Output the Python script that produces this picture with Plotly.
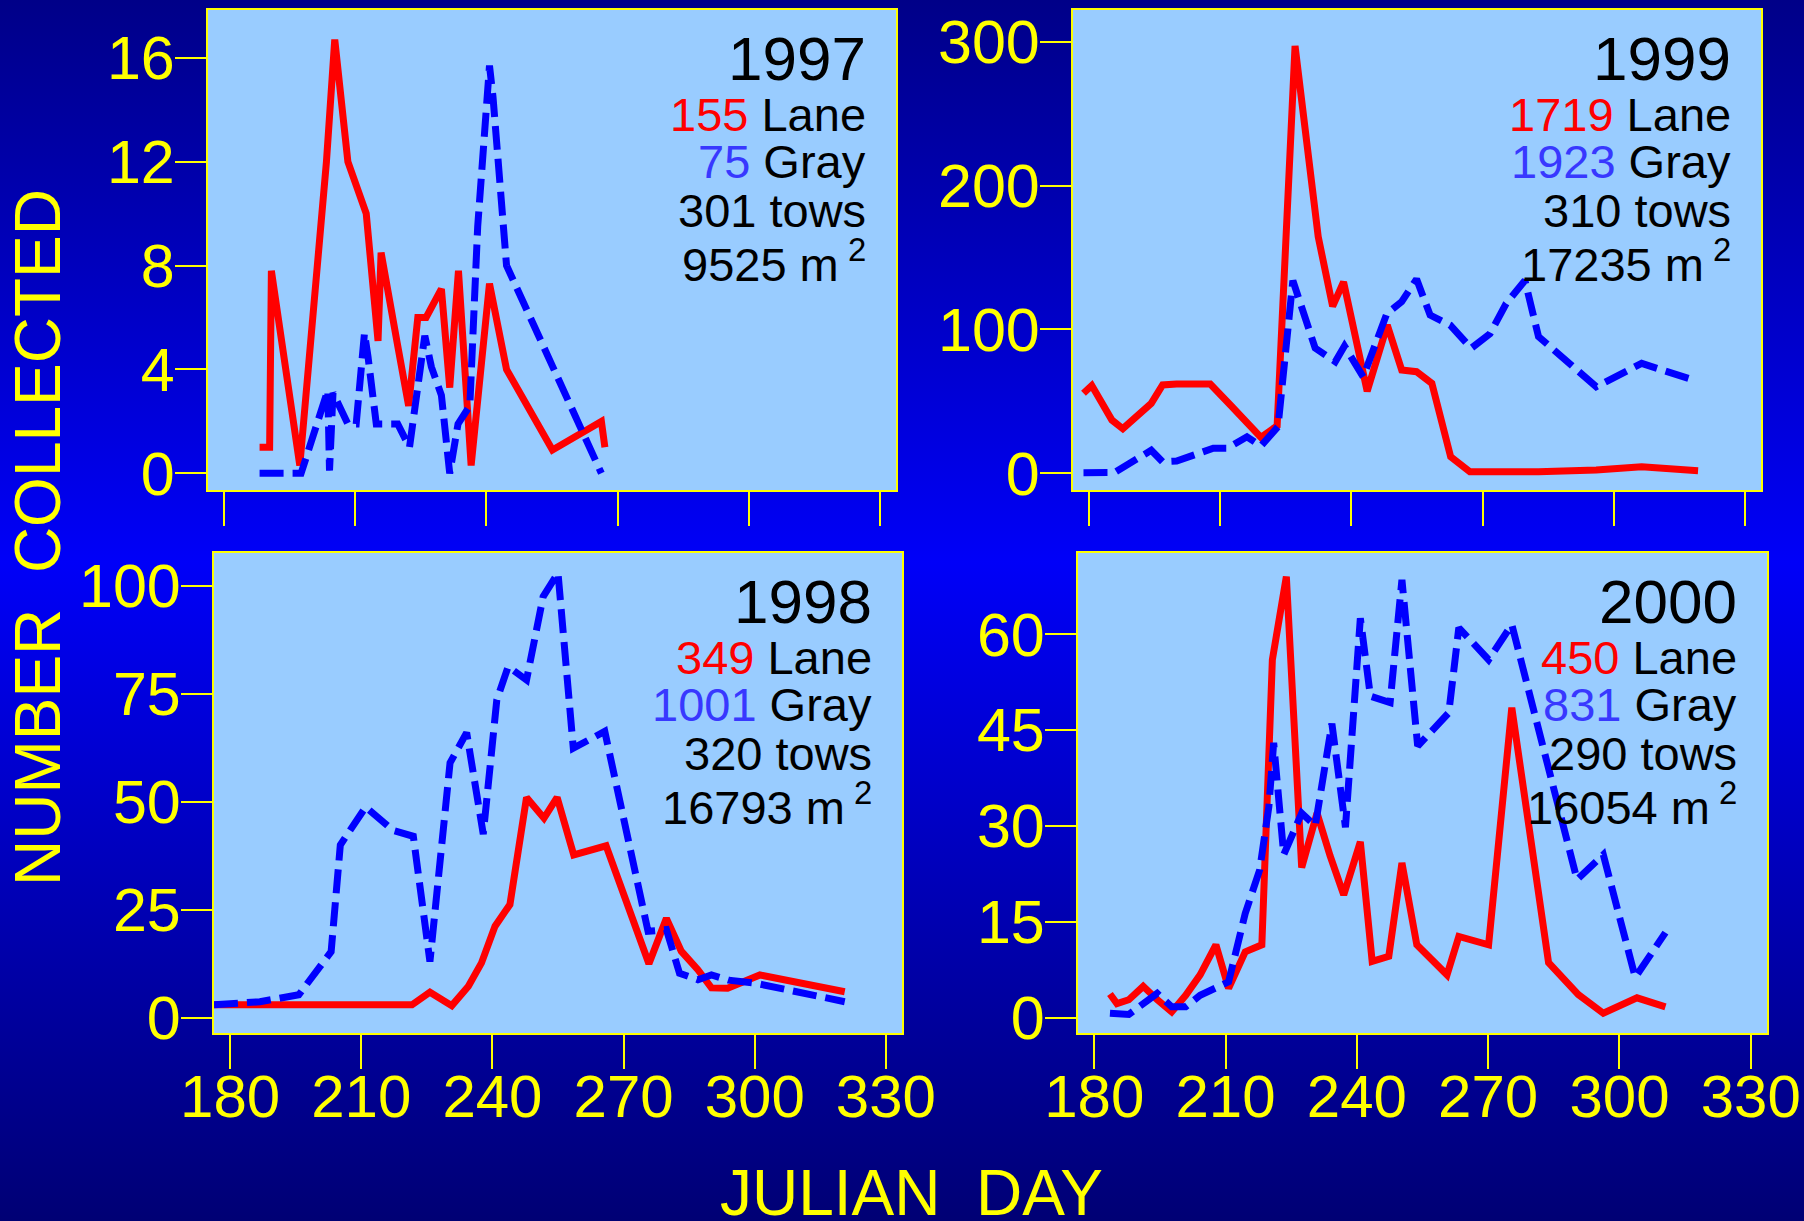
import base64
import plotly.graph_objects as go

# ---------------- data ----------------
DAY_1997_LANE = [188.1, 190.4, 190.8, 197.3, 203.4, 205.3, 208.3, 210.2, 212.5, 215.2, 215.9, 219.6,
                 222.2, 224.3, 226.2, 229.7, 231.6, 233.6, 236.5, 240.7, 244.6, 255.1, 266.3, 267.1]
N_1997_LANE = [1, 1, 7.8, 0.3, 12, 16.7, 12, 11, 10, 5.1, 8.5, 5, 2.6, 6, 6, 7.1, 3.3, 7.8, 0.3, 7.3,
               4, 0.9, 2, 1]
DAY_1997_GRAY = [188.1, 197.6, 203.7, 204.1, 204.9, 208.3, 210.2, 212.1, 212.9, 214.8, 219.7, 222.4,
                 225.9, 227.4, 229.7, 231.6, 233.5, 236.2, 238.0, 240.7, 241.5, 244.6, 266.3]
N_1997_GRAY = [0, 0, 3.2, 0.1, 3.1, 1.9, 1.9, 5.4, 4.5, 1.9, 1.9, 1.0, 5.3, 4.1, 3.0, 0.0, 1.9, 2.6,
               9.5, 15.7, 14.5, 8, 0]

DAY_1999_LANE = [178.7, 180.6, 185.2, 187.7, 194.2, 196.8, 200.0, 207.7, 212.3, 216.8, 219.3, 223.0,
                 227.1, 232.4, 235.7, 238.2, 243.6, 248.2, 251.5, 254.9, 258.4, 262.7, 267.1, 282.8,
                 296.0, 306.4, 319.3]
N_1999_LANE = [55.6, 61, 37, 31, 48.6, 61.4, 62, 62, 47.5, 33.6, 25, 33, 297, 164.4, 116, 133, 57,
               103, 71.8, 70.6, 62.5, 11.5, 1.1, 1, 2.3, 4.6, 1.8]
DAY_1999_GRAY = [178.7, 185.8, 194.2, 196.8, 200.0, 208.4, 211.6, 216.1, 219.3, 223.2, 226.6, 231.7,
                 236.3, 238.4, 242.7, 248.1, 251.5, 254.9, 258.0, 262.6, 267.4, 271.7, 275.4, 279.7,
                 282.8, 296.0, 306.4, 318.3]
N_1999_GRAY = [0.4, 0.5, 16, 8, 8.5, 17.4, 17.4, 25.4, 19, 32.4, 134, 87, 77.6, 88.5, 67, 111, 119.3,
               135, 110, 103, 86.9, 97, 118, 134, 95, 60.2, 76.4, 64.8]

DAY_1998_LANE = [176.3, 221.6, 225.7, 230.7, 234.5, 237.5, 240.6, 244.0, 247.8, 251.8, 254.8, 258.6,
                 266.0, 275.8, 279.8, 283.2, 287.0, 290.1, 293.8, 301.2, 320.6]
N_1998_LANE = [3, 3, 5.9, 2.8, 7.3, 12.7, 21.2, 26.2, 51, 46.2, 51, 37.7, 39.8, 12.5, 23, 15.4, 11.1,
               6.9, 6.8, 9.9, 6]
DAY_1998_GRAY = [176.3, 186.8, 195.7, 203.1, 205.2, 211.0, 217.2, 221.9, 225.7, 230.3, 234.1, 237.9,
                 241.0, 243.6, 247.8, 251.6, 255.0, 258.5, 265.7, 275.6, 279.8, 282.8, 287.0, 290.1,
                 294.0, 300.1, 320.6]
N_1998_GRAY = [3, 3.7, 5.3, 15.3, 40, 48.8, 43.4, 42, 13, 59, 66, 42.5, 73.6, 81.3, 78.2, 97.5, 103,
               62.4, 66.3, 20, 20.4, 10.3, 8.8, 9.9, 8.7, 8, 3.7]

DAY_2000_LANE = [183.6, 185.2, 187.9, 191.2, 194.4, 197.7, 200.9, 204.2, 207.8, 210.7, 214.5, 218.3,
                 220.7, 223.9, 227.4, 230.9, 233.9, 237.0, 240.8, 243.5, 247.3, 250.3, 253.7, 260.6,
                 263.3, 270.1, 275.4, 283.8, 290.6, 296.3, 304.0, 310.5]
N_2000_LANE = [3.7, 2.2, 2.8, 4.9, 2.8, 0.9, 3.5, 6.7, 11.4, 4.6, 10.3, 11.4, 56, 69, 23.5, 32, 25.3,
               19.2, 27.5, 8.8, 9.6, 24.2, 11.4, 6.7, 12.7, 11.4, 48.5, 8.6, 3.6, 0.7, 3.1, 1.7]
DAY_2000_GRAY = [183.6, 187.9, 194.4, 197.7, 200.9, 204.2, 210.7, 214.5, 217.8, 219.9, 221.0, 223.3,
                 227.4, 230.5, 234.3, 235.5, 237.4, 240.8, 243.1, 247.6, 250.3, 253.9, 261.0, 263.3,
                 270.1, 275.4, 290.3, 296.3, 303.6, 310.5]
N_2000_GRAY = [0.7, 0.5, 3.8, 1.7, 1.7, 3.5, 5.6, 16.3, 23.1, 33, 43, 25.5, 32, 30, 46, 38.8, 29.8,
               62.5, 50.3, 49.3, 68.5, 42.5, 47.7, 61, 56, 61.5, 21.6, 25.5, 6.3, 13.3]

YEARS = ["1997", "1999", "1998", "2000"]
LANE_TOTAL = ["155", "1719", "349", "450"]
GRAY_TOTAL = ["75", "1923", "1001", "831"]
TOWS = ["301", "310", "320", "290"]
AREA = ["9525", "17235", "16793", "16054"]

X_TICKS = [180, 210, 240, 270, 300, 330]
Y_TICKS_1997 = [0, 4, 8, 12, 16]
Y_TICKS_1999 = [0, 100, 200, 300]
Y_TICKS_1998 = [0, 25, 50, 75, 100]
Y_TICKS_2000 = [0, 15, 30, 45, 60]

# ---------------- styling ----------------
W, H = 1804, 1221
FONT = "Liberation Sans, Arial, Helvetica, sans-serif"
YELLOW = "#FFFF00"
RED = "#FF0000"
BLUE = "#0000FF"
NUMBLUE = "#3838FF"
BOXBG = "#99CCFF"

panels = [
    dict(lane=(DAY_1997_LANE, N_1997_LANE), gray=(DAY_1997_GRAY, N_1997_GRAY), yt=Y_TICKS_1997,
         yr=[-0.643, 17.84], xd=[208 / W, 896 / W], yd=[1 - 490 / H, 1 - 10 / H], labels=False),
    dict(lane=(DAY_1999_LANE, N_1999_LANE), gray=(DAY_1999_GRAY, N_1999_GRAY), yt=Y_TICKS_1999,
         yr=[-11.6, 322], xd=[1073 / W, 1761 / W], yd=[1 - 490 / H, 1 - 10 / H], labels=False),
    dict(lane=(DAY_1998_LANE, N_1998_LANE), gray=(DAY_1998_GRAY, N_1998_GRAY), yt=Y_TICKS_1998,
         yr=[-3.54, 107.6], xd=[214 / W, 902 / W], yd=[1 - 1033 / H, 1 - 553 / H], labels=True),
    dict(lane=(DAY_2000_LANE, N_2000_LANE), gray=(DAY_2000_GRAY, N_2000_GRAY), yt=Y_TICKS_2000,
         yr=[-2.4, 72.7], xd=[1078 / W, 1767 / W], yd=[1 - 1033 / H, 1 - 553 / H], labels=True),
]

fig = go.Figure()
layout = {}
annotations = []
shapes = []

for i, p in enumerate(panels):
    s = "" if i == 0 else str(i + 1)
    fig.add_trace(go.Scatter(x=p["lane"][0], y=p["lane"][1], mode="lines",
                             line=dict(color=RED, width=7), xaxis="x" + s, yaxis="y" + s,
                             showlegend=False, hoverinfo="skip"))
    fig.add_trace(go.Scatter(x=p["gray"][0], y=p["gray"][1], mode="lines",
                             line=dict(color=BLUE, width=7, dash="24px,9px"), xaxis="x" + s,
                             yaxis="y" + s, showlegend=False, hoverinfo="skip"))
    common = dict(showgrid=False, zeroline=False, showline=True, mirror=True, linecolor=YELLOW,
                  linewidth=2, ticks="outside", tickwidth=2, tickcolor=YELLOW, fixedrange=True,
                  automargin=False)
    layout["xaxis" + s] = dict(domain=p["xd"], range=[176.3, 333.7], tickvals=X_TICKS,
                               ticktext=[str(v) for v in X_TICKS], ticklen=34,
                               showticklabels=p["labels"], anchor="y" + s,
                               tickfont=dict(family=FONT, size=60, color=YELLOW),
                               ticklabelstandoff=-24, **common)
    layout["yaxis" + s] = dict(domain=p["yd"], range=p["yr"], tickvals=p["yt"],
                               ticktext=[str(v) for v in p["yt"]], ticklen=31, anchor="x" + s,
                               tickfont=dict(family=FONT, size=61, color=YELLOW),
                               ticklabelstandoff=-12, **common)
    xr, yr = "x" + s + " domain", "y" + s + " domain"
    # light-blue plotting box (drawn above the page gradient, below the traces)
    shapes.append(dict(type="rect", xref=xr, yref=yr, x0=0, x1=1, y0=0, y1=1,
                       fillcolor=BOXBG, line=dict(width=0), layer="below"))
    lines = [
        (YEARS[i], 62, 0.899),
        (f"<span style='color:{RED}'>{LANE_TOTAL[i]}</span> Lane", 47, 0.782),
        (f"<span style='color:{NUMBLUE}'>{GRAY_TOTAL[i]}</span> Gray", 47, 0.684),
        (f"{TOWS[i]} tows", 47, 0.583),
        (f"{AREA[i]} m<sup> 2</sup>", 47, 0.477),
    ]
    for txt, fs, yy in lines:
        annotations.append(dict(text=txt, xref=xr, yref=yr, x=0.959, y=yy, xanchor="right",
                                yanchor="middle", showarrow=False,
                                font=dict(family=FONT, size=fs, color="#000000")))

annotations.append(dict(text="NUMBER\u00a0 COLLECTED", xref="paper", yref="paper", x=38 / W,
                        y=1 - 538 / H, xanchor="center", yanchor="middle", textangle=-90,
                        showarrow=False, font=dict(family=FONT, size=64, color=YELLOW)))
annotations.append(dict(text="JULIAN\u00a0 DAY", xref="paper", yref="paper", x=912 / W,
                        y=1 - 1193 / H, xanchor="center", yanchor="middle", showarrow=False,
                        font=dict(family=FONT, size=64, color=YELLOW)))

svg = (f'<svg xmlns="http://www.w3.org/2000/svg" width="{W}" height="{H}" '
       f'viewBox="0 0 {W} {H}" preserveAspectRatio="none"><defs>'
       '<linearGradient id="g" x1="0" y1="0" x2="0" y2="1">'
       '<stop offset="0" stop-color="#000088"/>'
       '<stop offset="0.46" stop-color="#0000F8"/>'
       '<stop offset="1" stop-color="#000074"/>'
       '</linearGradient></defs>'
       f'<rect x="0" y="0" width="{W}" height="{H}" fill="url(#g)"/></svg>')
bg_src = "data:image/svg+xml;base64," + base64.b64encode(svg.encode()).decode()

fig.update_layout(
    template="none",
    width=W, height=H, margin=dict(l=0, r=0, t=0, b=0, pad=0, autoexpand=False),
    paper_bgcolor="#0000B0", plot_bgcolor="rgba(0,0,0,0)",
    annotations=annotations,
    shapes=shapes,
    images=[dict(source=bg_src, xref="paper", yref="paper", x=0, y=1, sizex=1, sizey=1,
                 xanchor="left", yanchor="top", sizing="stretch", layer="below")],
    **layout,
)

fig.write_html("out.html", config={"displayModeBar": False},
               post_script="document.body.style.margin='0';document.body.style.overflow='hidden';")
